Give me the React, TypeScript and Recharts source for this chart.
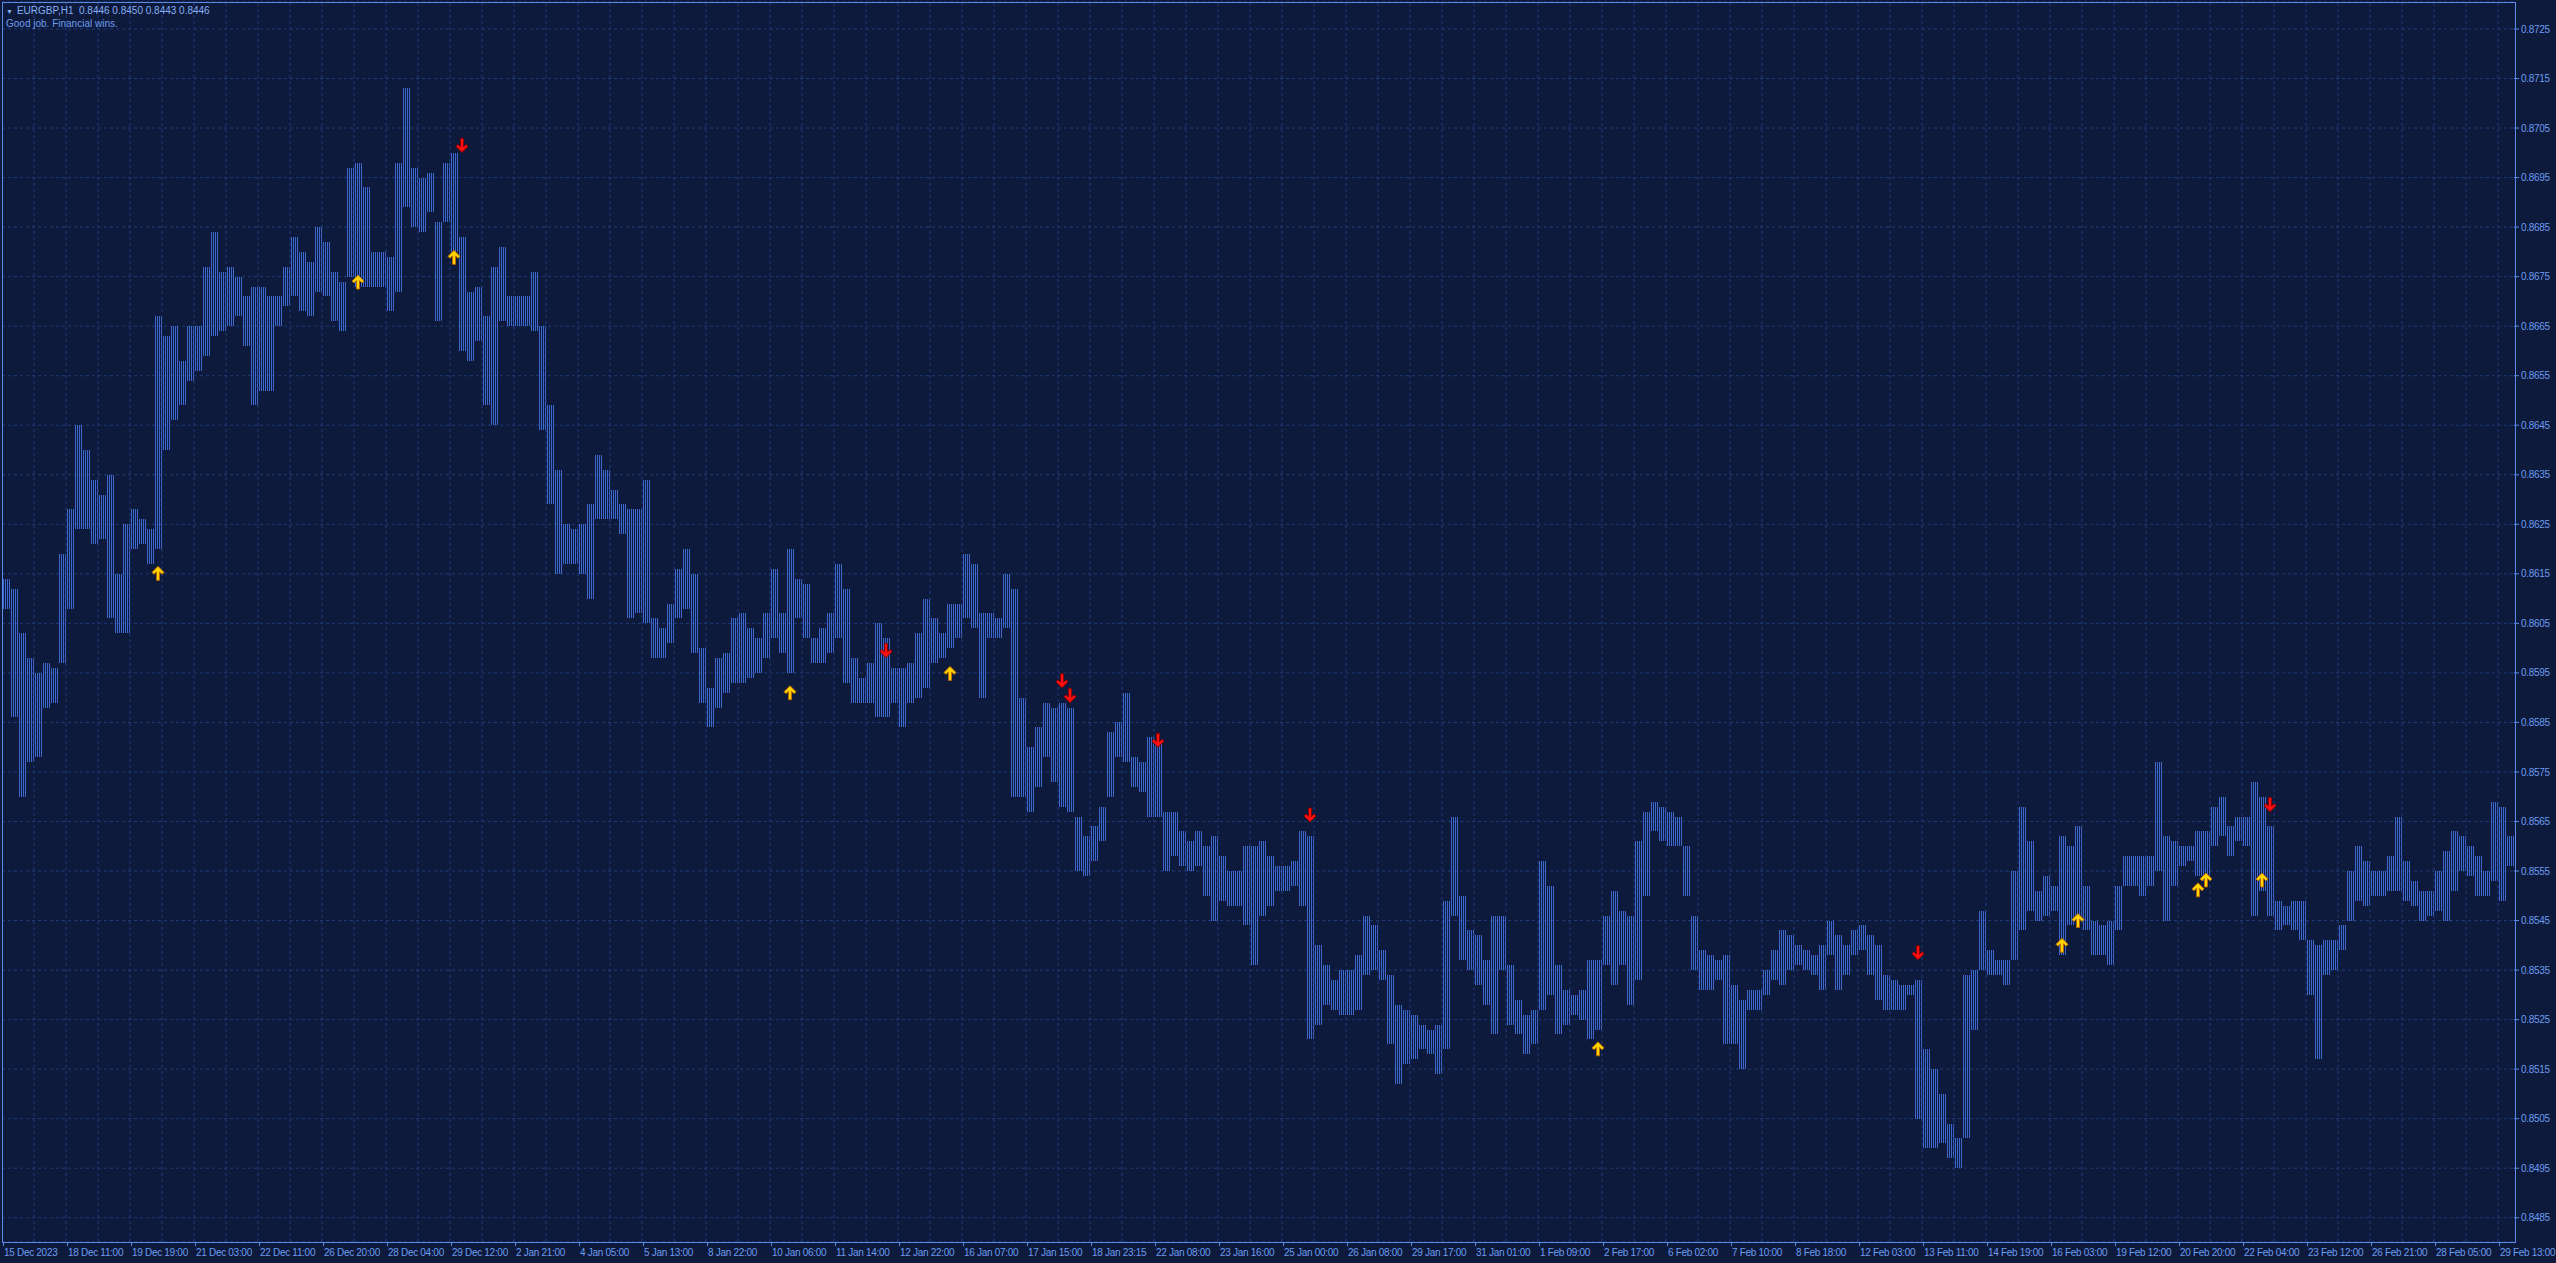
import * as React from 'react';
import {
    ComposedChart, Bar, Line, XAxis, YAxis, CartesianGrid, ReferenceLine,
} from 'recharts';

// EURGBP H1, one entry per 4 hourly bars (high / low of the group)
const highs = [
    0.8614, 0.8612, 0.8603, 0.8598, 0.8595, 0.8597, 0.8596, 0.8619, 0.8628, 0.8645,
    0.8640, 0.8634, 0.8631, 0.8635, 0.8615, 0.8625, 0.8628, 0.8626, 0.8624, 0.8667,
    0.8663, 0.8665, 0.8658, 0.8665, 0.8665, 0.8677, 0.8684, 0.8676, 0.8677, 0.8675,
    0.8671, 0.8673, 0.8673, 0.8671, 0.8671, 0.8677, 0.8683, 0.8680, 0.8678, 0.8685,
    0.8682, 0.8676, 0.8674, 0.8697, 0.8698, 0.8693, 0.8680, 0.8680, 0.8679, 0.8698,
    0.8713, 0.8697, 0.8695, 0.8696, 0.8686, 0.8698, 0.8700, 0.8683, 0.8672, 0.8673,
    0.8667, 0.8677, 0.8681, 0.8671, 0.8671, 0.8671, 0.8676, 0.8665, 0.8649, 0.8636,
    0.8625, 0.8624, 0.8625, 0.8629, 0.8639, 0.8636, 0.8632, 0.8629, 0.8628, 0.8628,
    0.8634, 0.8606, 0.8604, 0.8609, 0.8616, 0.8620, 0.8615, 0.8600, 0.8592, 0.8598,
    0.8599, 0.8606, 0.8607, 0.8604, 0.8602, 0.8607, 0.8616, 0.8607, 0.8620, 0.8614,
    0.8613, 0.8602, 0.8604, 0.8607, 0.8617, 0.8612, 0.8598, 0.8594, 0.8597, 0.8605,
    0.8602, 0.8596, 0.8596, 0.8597, 0.8603, 0.8610, 0.8606, 0.8603, 0.8609, 0.8609,
    0.8619, 0.8617, 0.8607, 0.8607, 0.8606, 0.8615, 0.8612, 0.8590, 0.8580, 0.8584,
    0.8589, 0.8588, 0.8589, 0.8588, 0.8566, 0.8562, 0.8564, 0.8568, 0.8583, 0.8585,
    0.8591, 0.8578, 0.8577, 0.8582, 0.8581, 0.8567, 0.8567, 0.8563, 0.8561, 0.8563,
    0.8560, 0.8562, 0.8558, 0.8555, 0.8555, 0.8560, 0.8560, 0.8561, 0.8558, 0.8556,
    0.8556, 0.8557, 0.8563, 0.8562, 0.8540, 0.8536, 0.8533, 0.8535, 0.8535, 0.8538,
    0.8546, 0.8544, 0.8539, 0.8534, 0.8528, 0.8527, 0.8526, 0.8524, 0.8523, 0.8524,
    0.8549, 0.8566, 0.8550, 0.8543, 0.8542, 0.8537, 0.8546, 0.8546, 0.8536, 0.8529,
    0.8526, 0.8527, 0.8557, 0.8552, 0.8536, 0.8531, 0.8530, 0.8531, 0.8537, 0.8537,
    0.8546, 0.8551, 0.8547, 0.8546, 0.8561, 0.8567, 0.8569, 0.8568, 0.8567, 0.8566,
    0.8560, 0.8546, 0.8539, 0.8538, 0.8537, 0.8538, 0.8532, 0.8529, 0.8531, 0.8531,
    0.8535, 0.8539, 0.8543, 0.8542, 0.8540, 0.8539, 0.8538, 0.8540, 0.8545, 0.8542,
    0.8540, 0.8543, 0.8544, 0.8542, 0.8540, 0.8534, 0.8533, 0.8532, 0.8532, 0.8533,
    0.8519, 0.8515, 0.8510, 0.8504, 0.8501, 0.8534, 0.8535, 0.8547, 0.8539, 0.8537,
    0.8537, 0.8555, 0.8568, 0.8561, 0.8551, 0.8554, 0.8552, 0.8562, 0.8560, 0.8564,
    0.8552, 0.8545, 0.8544, 0.8545, 0.8552, 0.8558, 0.8558, 0.8558, 0.8558, 0.8577,
    0.8562, 0.8561, 0.8560, 0.8560, 0.8563, 0.8563, 0.8568, 0.8570, 0.8564, 0.8566,
    0.8566, 0.8573, 0.8570, 0.8564, 0.8549, 0.8548, 0.8549, 0.8549, 0.8541, 0.8540,
    0.8541, 0.8541, 0.8544, 0.8555, 0.8560, 0.8557, 0.8555, 0.8555, 0.8558, 0.8566,
    0.8557, 0.8553, 0.8551, 0.8551, 0.8555, 0.8559, 0.8563, 0.8562, 0.8560, 0.8558,
    0.8555, 0.8569, 0.8568, 0.8562,
];

const lows = [
    0.8608, 0.8586, 0.8570, 0.8577, 0.8578, 0.8588, 0.8589, 0.8597, 0.8608, 0.8624,
    0.8624, 0.8621, 0.8622, 0.8606, 0.8603, 0.8603, 0.8620, 0.8621, 0.8617, 0.8620,
    0.8640, 0.8646, 0.8649, 0.8654, 0.8656, 0.8659, 0.8663, 0.8664, 0.8665, 0.8667,
    0.8661, 0.8649, 0.8652, 0.8652, 0.8665, 0.8669, 0.8671, 0.8668, 0.8667, 0.8672,
    0.8671, 0.8666, 0.8664, 0.8675, 0.8673, 0.8673, 0.8673, 0.8673, 0.8668, 0.8672,
    0.8689, 0.8685, 0.8684, 0.8688, 0.8666, 0.8686, 0.8680, 0.8660, 0.8658, 0.8662,
    0.8649, 0.8645, 0.8666, 0.8665, 0.8665, 0.8665, 0.8664, 0.8644, 0.8629, 0.8615,
    0.8617, 0.8617, 0.8615, 0.8610, 0.8626, 0.8626, 0.8626, 0.8623, 0.8606, 0.8607,
    0.8605, 0.8598, 0.8598, 0.8601, 0.8606, 0.8608, 0.8599, 0.8589, 0.8584, 0.8588,
    0.8591, 0.8593, 0.8593, 0.8594, 0.8595, 0.8598, 0.8602, 0.8599, 0.8595, 0.8606,
    0.8602, 0.8597, 0.8597, 0.8599, 0.8602, 0.8593, 0.8589, 0.8589, 0.8589, 0.8586,
    0.8586, 0.8589, 0.8584, 0.8589, 0.8590, 0.8592, 0.8597, 0.8598, 0.8600, 0.8602,
    0.8606, 0.8604, 0.8590, 0.8602, 0.8602, 0.8604, 0.8570, 0.8570, 0.8567, 0.8572,
    0.8578, 0.8573, 0.8568, 0.8567, 0.8555, 0.8554, 0.8557, 0.8561, 0.8570, 0.8578,
    0.8577, 0.8572, 0.8571, 0.8566, 0.8566, 0.8555, 0.8558, 0.8556, 0.8555, 0.8556,
    0.8550, 0.8545, 0.8549, 0.8548, 0.8548, 0.8544, 0.8536, 0.8546, 0.8548, 0.8551,
    0.8551, 0.8552, 0.8548, 0.8521, 0.8524, 0.8528, 0.8527, 0.8526, 0.8526, 0.8527,
    0.8534, 0.8535, 0.8533, 0.8520, 0.8512, 0.8516, 0.8517, 0.8519, 0.8518, 0.8514,
    0.8519, 0.8546, 0.8537, 0.8535, 0.8532, 0.8528, 0.8522, 0.8535, 0.8524, 0.8522,
    0.8518, 0.8520, 0.8527, 0.8530, 0.8522, 0.8524, 0.8526, 0.8525, 0.8521, 0.8523,
    0.8536, 0.8532, 0.8536, 0.8528, 0.8533, 0.8550, 0.8563, 0.8561, 0.8560, 0.8560,
    0.8550, 0.8535, 0.8531, 0.8531, 0.8533, 0.8520, 0.8520, 0.8515, 0.8527, 0.8527,
    0.8530, 0.8533, 0.8532, 0.8535, 0.8536, 0.8535, 0.8534, 0.8531, 0.8538, 0.8531,
    0.8534, 0.8538, 0.8539, 0.8534, 0.8529, 0.8527, 0.8527, 0.8527, 0.8530, 0.8505,
    0.8499, 0.8499, 0.8500, 0.8497, 0.8495, 0.8501, 0.8523, 0.8535, 0.8534, 0.8534,
    0.8532, 0.8537, 0.8543, 0.8547, 0.8545, 0.8546, 0.8547, 0.8538, 0.8544, 0.8546,
    0.8543, 0.8538, 0.8538, 0.8536, 0.8543, 0.8552, 0.8552, 0.8550, 0.8552, 0.8555,
    0.8545, 0.8552, 0.8556, 0.8557, 0.8554, 0.8553, 0.8560, 0.8562, 0.8558, 0.8561,
    0.8560, 0.8546, 0.8551, 0.8546, 0.8543, 0.8544, 0.8543, 0.8541, 0.8530, 0.8517,
    0.8534, 0.8535, 0.8539, 0.8545, 0.8549, 0.8548, 0.8550, 0.8550, 0.8551, 0.8551,
    0.8549, 0.8548, 0.8545, 0.8546, 0.8547, 0.8545, 0.8551, 0.8555, 0.8554, 0.8550,
    0.8550, 0.8553, 0.8549, 0.8556,
];

// signal arrows: [entry index, price]
const upArrows = [
    [19, 0.86151], [44, 0.86739], [56, 0.86789], [98, 0.8591], [118, 0.85949],
    [199, 0.85191], [257, 0.854], [259, 0.8545], [274, 0.85512], [275, 0.85532], [282, 0.85532],
];
const downArrows = [
    [57, 0.87015], [110, 0.85995], [132, 0.85934], [133, 0.85904], [144, 0.85814],
    [163, 0.85663], [239, 0.85385], [283, 0.85684],
];

const xLabels = [
    '15 Dec 2023', '18 Dec 11:00', '19 Dec 19:00', '21 Dec 03:00', '22 Dec 11:00', '26 Dec 20:00',
    '28 Dec 04:00', '29 Dec 12:00', '2 Jan 21:00', '4 Jan 05:00', '5 Jan 13:00', '8 Jan 22:00',
    '10 Jan 06:00', '11 Jan 14:00', '12 Jan 22:00', '16 Jan 07:00', '17 Jan 15:00', '18 Jan 23:15',
    '22 Jan 08:00', '23 Jan 16:00', '25 Jan 00:00', '26 Jan 08:00', '29 Jan 17:00', '31 Jan 01:00',
    '1 Feb 09:00', '2 Feb 17:00', '6 Feb 02:00', '7 Feb 10:00', '8 Feb 18:00', '12 Feb 03:00',
    '13 Feb 11:00', '14 Feb 19:00', '16 Feb 03:00', '19 Feb 12:00', '20 Feb 20:00', '22 Feb 04:00',
    '23 Feb 12:00', '26 Feb 21:00', '28 Feb 05:00', '29 Feb 13:00',
];

const yTicks = [
    0.8485, 0.8495, 0.8505, 0.8515, 0.8525, 0.8535, 0.8545, 0.8555, 0.8565, 0.8575,
    0.8585, 0.8595, 0.8605, 0.8615, 0.8625, 0.8635, 0.8645, 0.8655, 0.8665, 0.8675,
    0.8685, 0.8695, 0.8705, 0.8715, 0.8725,
];

const BG = '#0e1a3b';
const GRID = '#1f3b7c';
const FRAME = '#5b8be6';
const TEXT = '#6b9cf0';
const BAR = '#3e68cc';
const FONT = "'Liberation Sans', Arial, sans-serif";

const upMap = new Map(upArrows.map(([i, p]) => [i, p]));
const downMap = new Map(downArrows.map(([i, p]) => [i, p]));

const rows = highs.map((h, i) => ({
    i,
    range: [lows[i], h],
    up: upMap.has(i) ? upMap.get(i) : null,
    down: downMap.has(i) ? downMap.get(i) : null,
}));

// draw each group as four hairlines, like the hourly bars
const HairBars = (props: any) => {
    const { x, y, width, height } = props;
    if (x == null || y == null) return <g />;
    const top = Math.min(y, y + height);
    const h = Math.max(1, Math.abs(height));
    const x0 = Math.round(x);
    const lines = [];
    for (let k = 0; k < width; k += 2) {
        lines.push(<rect key={k} x={x0 + k} y={top} width={1} height={h} fill={BAR} />);
    }
    return <g shapeRendering='crispEdges'>{lines}</g>;
};

const arrowDot = (dir: 'up' | 'down') => (props: any) => {
    const { cx, cy, index, value } = props;
    if (value == null || cy == null || isNaN(cy)) return <g key={`${dir}-${index}`} />;
    const s = dir === 'up' ? 1 : -1;
    const p = (dx: number, dy: number) => `${cx + dx},${cy + s * dy}`;
    const d = `M${p(0, -7)} L${p(6, -1)} L${p(4, 1)} L${p(1.5, -1.5)} L${p(1.5, 7)} L${p(-1.5, 7)} L${p(-1.5, -1.5)} L${p(-4, 1)} L${p(-6, -1)} Z`;
    return (
        <path
            key={`${dir}-${index}`}
            d={d}
            fill={dir === 'up' ? '#ffd400' : '#ff1010'}
            stroke={dir === 'up' ? '#b86a00' : '#8c0000'}
            strokeWidth={1}
        />
    );
};

const DateTick = (props: any) => {
    const { x, y, payload } = props;
    const i = payload.value;
    if (i % 8 !== 0) return <g />;
    const x0 = Math.round(x) - 3;
    return (
        <g>
            <line x1={x0 + 0.5} x2={x0 + 0.5} y1={y} y2={y + 4} stroke={FRAME} />
            <text x={x0 + 1} y={y + 14} fill={TEXT} fontSize={10} fontFamily={FONT} letterSpacing={-0.3} textAnchor='start'>
                {xLabels[i / 8]}
            </text>
        </g>
    );
};

export default function App() {
    return (
        <div style={{ position: 'fixed', left: 0, top: 0, width: 2556, height: 1263, background: BG, overflow: 'hidden' }}>
            <ComposedChart
                width={2556}
                height={1263}
                data={rows}
                margin={{ top: 2, right: 0, left: 2, bottom: 0 }}
                barCategoryGap={0}
            >
                <CartesianGrid vertical={false} stroke={GRID} strokeDasharray='3 3' />
                {rows.filter((r) => r.i % 4 === 0 && r.i > 0).map((r) => (
                    <ReferenceLine
                        key={`v-${r.i}`}
                        x={r.i}
                        position='start'
                        stroke={GRID}
                        strokeDasharray='3 3'
                    />
                ))}
                <XAxis
                    dataKey='i'
                    type='category'
                    interval={7}
                    height={21}
                    axisLine={false}
                    tickLine={false}
                    tickSize={0}
                    tickMargin={0}
                    tick={<DateTick />}
                />
                <YAxis
                    orientation='right'
                    type='number'
                    domain={[0.84801, 0.873045]}
                    allowDataOverflow
                    ticks={yTicks}
                    interval={0}
                    width={42}
                    axisLine={false}
                    tickSize={5}
                    tickMargin={2}
                    tickLine={{ stroke: FRAME }}
                    tick={{ fill: TEXT, fontSize: 10, fontFamily: FONT, letterSpacing: -0.3 }}
                    tickFormatter={(v) => v.toFixed(4)}
                />
                <Bar dataKey='range' barSize={7} shape={<HairBars />} isAnimationActive={false} />
                <Line dataKey='up' stroke='none' dot={arrowDot('up')} activeDot={false} isAnimationActive={false} connectNulls={false} />
                <Line dataKey='down' stroke='none' dot={arrowDot('down')} activeDot={false} isAnimationActive={false} connectNulls={false} />
            </ComposedChart>
            <div
                style={{
                    position: 'absolute', left: 2, top: 2, width: 2514, height: 1241,
                    boxSizing: 'border-box', border: `1px solid ${FRAME}`, pointerEvents: 'none',
                }}
            />
            <div style={{ position: 'absolute', left: 6, top: 4, fontFamily: FONT, fontSize: 10, lineHeight: '13px', color: '#86aef5', whiteSpace: 'pre' }}>
                <span style={{ fontSize: 7, marginRight: 4 }}>▼</span>EURGBP,H1  0.8446 0.8450 0.8443 0.8446
            </div>
            <div style={{ position: 'absolute', left: 6, top: 17, fontFamily: FONT, fontSize: 10, lineHeight: '13px', color: '#6b9cf0' }}>
                Good job. Financial wins.
            </div>
        </div>
    );
}
